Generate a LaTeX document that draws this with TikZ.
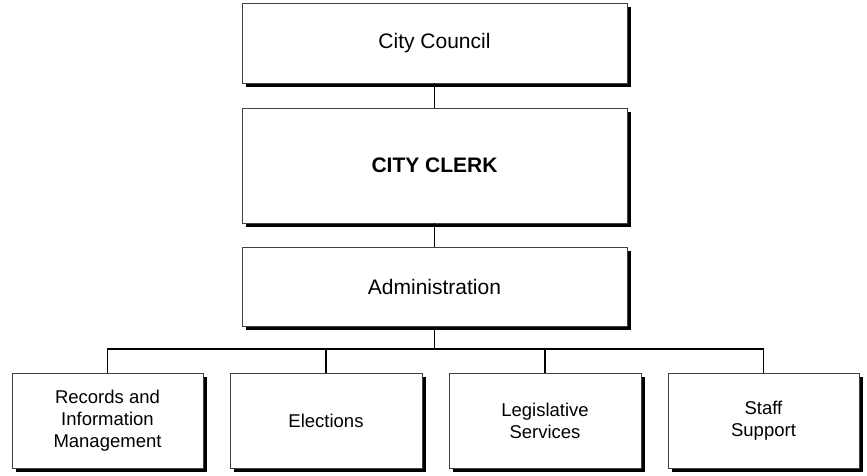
\documentclass[tikz,border=0pt]{standalone}
\usepackage{fontspec}
\setmainfont{Liberation Sans}
\begin{document}
\begin{tikzpicture}[x=1pt,y=-1pt,
  orgbox/.style={draw=black!75, line width=0.8pt, fill=white, rectangle, inner sep=0pt, align=center,
    font=\fontsize{21}{25}\selectfont},
  smallbox/.style={orgbox, font=\fontsize{18.5}{22}\selectfont},
  conn/.style={line width=1.4pt, black}]
\useasboundingbox (0,0) rectangle (867,475);
\def\sbox(#1,#2,#3,#4){\fill[black] (#1+4,#2+4) rectangle (#3+4,#4+4);}
% shadows
\sbox(242,3,627,83)
\sbox(242,108,627,223)
\sbox(242,247,627,326)
\sbox(12,373,203,468)
\sbox(230,373,422,468)
\sbox(449,373,641,468)
\sbox(668,373,859,468)
% boxes
\node[orgbox, minimum width=385pt, minimum height=80pt] (council) at (434.5,43) {City Council};
\node[orgbox, minimum width=385pt, minimum height=115pt] (clerk) at (434.5,165.5) {\bfseries CITY CLERK};
\node[orgbox, minimum width=385pt, minimum height=79pt] (admin) at (434.5,286.5) {Administration};
\node[smallbox, minimum width=191pt, minimum height=95pt] (records) at (107.5,420.5) {Records and\\Information\\Management};
\node[smallbox, minimum width=192pt, minimum height=95pt] (elections) at (326,420.5) {Elections};
\node[smallbox, minimum width=192pt, minimum height=95pt] (legis) at (545,420.5) {Legislative\\Services};
\node[smallbox, minimum width=191pt, minimum height=95pt] (staff) at (763.5,420.5) {Staff\\Support};
% connectors
\coordinate (bus) at (434.5,349);
\draw[conn] (council.south) -- (clerk.north);
\draw[conn] (clerk.south) -- (admin.north);
\draw[conn] ([yshift=-4pt]admin.south) -- (bus);
\draw[conn] (records.north) |- (bus);
\draw[conn] (elections.north) |- (bus);
\draw[conn] (legis.north) |- (bus);
\draw[conn] (staff.north) |- (bus);
\end{tikzpicture}
\end{document}
